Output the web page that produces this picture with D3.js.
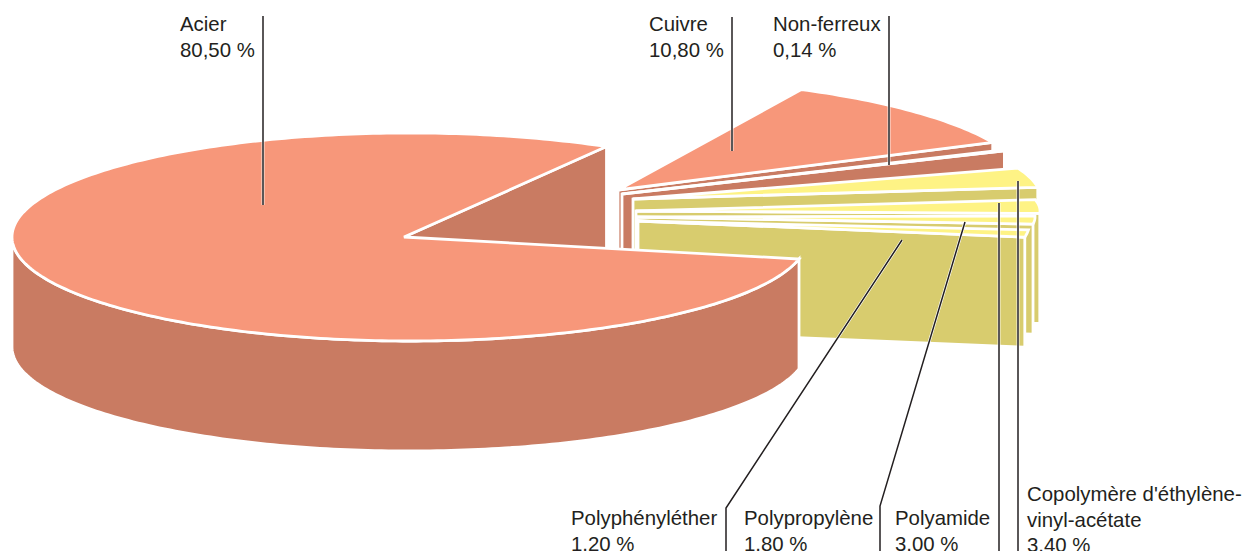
<!DOCTYPE html>
<html lang="fr">
<head>
<meta charset="utf-8">
<script src="https://cdn.jsdelivr.net/npm/d3@7"></script>
<style>
  html, body { margin: 0; background: #fff; overflow: hidden; }
  text { font-family: "Liberation Sans", Arial, sans-serif; font-size: 20.4px; fill: #231f20; }
</style>
</head>
<body>
<div id="chart"></div>
<script>
const names = ['Acier', 'Cuivre', 'Non-ferreux', "Copolymère d'éthylène-\nvinyl-acétate", 'Polyamide', 'Polypropylène', 'Polyphényléther'];
const shares = [80.5, 10.8, 0.14, 3.4, 3.0, 1.8, 1.2];

const width = 1245;
const height = 551;
const depth = 110;
const center = {x: 404, y: 237};
const deg = Math.PI / 180;

// each slice is pulled out of the pie by hand, same as in the original drawing
// dx, dy move the tip, cx moves the rim ellipse away from the tip
const explode = [
  {dx: 0,   dy: 0,   cx: 6, rx: 398, ry: 104, rot: 0},
  {dx: 214, dy: -47, cx: 0, rx: 414, ry: 112, rot: -3.3},
  {dx: 218, dy: -43, cx: 0, rx: 415, ry: 111, rot: -1.5},
  {dx: 229, dy: -38, cx: 0, rx: 408, ry: 93,  rot: 2},
  {dx: 232, dy: -26, cx: 0, rx: 404, ry: 74,  rot: 0.4},
  {dx: 233, dy: -20, cx: 0, rx: 398, ry: 71,  rot: -2.2},
  {dx: 234, dy: -16, cx: 0, rx: 392, ry: 100, rot: -2.85}
];

const topColor = ['#f7977a', '#f7977a', '#f7977a', '#fef385', '#fef385', '#fef385', '#fef385'];
const sideColor = ['#c97b62', '#c97b62', '#c97b62', '#d8cc6e', '#d8cc6e', '#d8cc6e', '#d8cc6e'];

// label anchor (first line start) and leader path for every slice
const labelPos = [
  {x: 180, y: 31}, {x: 649, y: 31}, {x: 773, y: 31},
  {x: 1027, y: 501}, {x: 895, y: 525}, {x: 744, y: 525}, {x: 571, y: 525}
];
const leaders = [
  [[263, 16], [263, 205]],
  [[732, 17], [732, 151]],
  [[889, 16], [889, 165]],
  [[1018, 551], [1018, 181]],
  [[999, 551], [999, 203]],
  [[880, 551], [880, 506], [965, 222]],
  [[726, 551], [726, 508], [902, 240]]
];

const fr = d3.formatLocale({decimal: ',', thousands: ' ', grouping: [3], currency: ['', ' €']});
const pct = fr.format('.2f');

const svg = d3.select('#chart')
  .append('svg')
    .attr('width', width)
    .attr('height', height)
    .style('display', 'block');

const pie = d3.pie()
  .sort(null)
  .startAngle(12.2 * deg + Math.PI / 2)
  .endAngle(12.2 * deg + Math.PI / 2 + 2 * Math.PI);
const arcs = pie(shares);

const line = d3.line();

const point = (e, a, drop = 0) => [
  center.x + e.dx + e.cx + e.rx * Math.sin(a),
  center.y + e.dy - e.ry * Math.cos(a) + drop
];

const rim = (e, a0, a1, drop = 0) => {
  const n = Math.max(2, Math.ceil(Math.abs(a1 - a0) / deg));
  return d3.range(n + 1).map(i => point(e, a0 + (a1 - a0) * i / n, drop));
};

const apex = (e, drop = 0) => [center.x + e.dx, center.y + e.dy + drop];

const drawSlice = (i) => {
  const e = explode[i];
  const a0 = arcs[i].startAngle + e.rot * deg;
  const a1 = arcs[i].endAngle + e.rot * deg;
  const g = svg.append('g')
    .attr('stroke', '#fff')
    .attr('stroke-width', 2.8)
    .attr('stroke-linejoin', 'miter');

  // the cut face at the end of the slice
  const s = point(e, a1);
  g.append('path')
    .attr('d', line([apex(e), s, [s[0], s[1] + depth], apex(e, depth)]) + 'Z')
    .attr('fill', sideColor[i]);

  // outer wall, only the part that is turned to the front
  const wallFrom = Math.max(a0, Math.PI / 2);
  const wallTo = Math.min(a1, Math.PI * 1.5);
  if (wallTo > wallFrom) {
    const upper = rim(e, wallFrom, wallTo);
    const lower = rim(e, wallTo, wallFrom, depth);
    g.append('path')
      .attr('d', line(upper.concat(lower)) + 'Z')
      .attr('fill', sideColor[i]);
  }

  g.append('path')
    .attr('d', line([apex(e)].concat(rim(e, a0, a1))) + 'Z')
    .attr('fill', topColor[i]);
};

// back to front: small slices first, the steel slice over them
d3.range(1, shares.length).forEach(drawSlice);
drawSlice(0);

// leaders
const leaderG = svg.append('g').attr('fill', 'none');
leaderG.selectAll('path.halo')
  .data(leaders)
  .enter()
  .append('path')
    .attr('class', 'halo')
    .attr('d', d => line(d))
    .attr('stroke', '#fff')
    .attr('stroke-width', 2.8);
leaderG.selectAll('path.ink')
  .data(leaders)
  .enter()
  .append('path')
    .attr('class', 'ink')
    .attr('d', d => line(d))
    .attr('stroke', '#231f20')
    .attr('stroke-width', 1.5);

// labels
const labels = svg.selectAll('text.label')
  .data(names)
  .enter()
  .append('text')
    .attr('class', 'label')
    .attr('x', (d, i) => labelPos[i].x)
    .attr('y', (d, i) => labelPos[i].y);

labels.each(function (d, i) {
  const rows = d.split('\n').concat(`${pct(shares[i])} %`);
  d3.select(this).selectAll('tspan')
    .data(rows)
    .enter()
    .append('tspan')
      .attr('x', labelPos[i].x)
      .attr('dy', (r, k) => k === 0 ? 0 : 25.5)
      .text(r => r);
});
</script>
</body>
</html>
